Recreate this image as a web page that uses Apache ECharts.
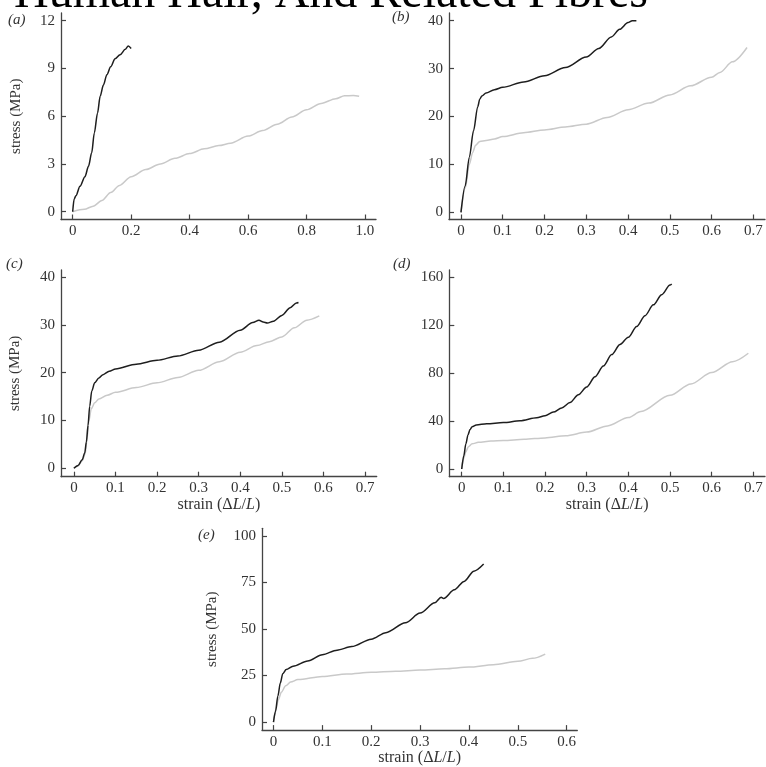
<!DOCTYPE html>
<html>
<head>
<meta charset="utf-8">
<title>Human Hair, And Related Fibres</title>
<script src="https://cdn.jsdelivr.net/npm/echarts@6/dist/echarts.min.js"></script>
<style>
  html, body { margin: 0; padding: 0; background: #fff; }
  #chart { width: 766px; height: 767px; }
</style>
</head>
<body>
<div id="chart"></div>
<script>
// panel (a)
var aTicksX = [0, 0.2, 0.4, 0.6, 0.8, 1.0];
var aTicksY = [0, 3, 6, 9, 12];
var aDark = [[0,0],[0.005,0.8],[0.011,1.0],[0.025,1.6],[0.042,2.2],[0.054,2.85],[0.065,3.7],[0.074,4.95],[0.085,6.2],[0.094,7.25],[0.105,7.95],[0.117,8.6],[0.13,9.1],[0.145,9.6],[0.162,9.85],[0.18,10.2],[0.19,10.4],[0.2,10.25]];
var aLight = [[0,0],[0.04,0.15],[0.07,0.35],[0.1,0.7],[0.13,1.2],[0.16,1.65],[0.2,2.2],[0.25,2.65],[0.3,3.0],[0.35,3.35],[0.4,3.65],[0.45,3.95],[0.5,4.15],[0.54,4.3],[0.6,4.75],[0.65,5.1],[0.7,5.5],[0.75,5.95],[0.8,6.4],[0.85,6.8],[0.9,7.1],[0.93,7.28],[0.96,7.3],[0.98,7.25]];

// panel (b)
var bTicksX = [0, 0.1, 0.2, 0.3, 0.4, 0.5, 0.6, 0.7];
var bTicksY = [0, 10, 20, 30, 40];
var bDark = [[0,0],[0.01,5.5],[0.02,11.5],[0.03,17],[0.04,22],[0.045,23.6],[0.05,24.3],[0.06,24.9],[0.08,25.6],[0.1,26.1],[0.15,27.2],[0.2,28.5],[0.25,30.2],[0.3,32.4],[0.33,34.2],[0.36,36.6],[0.38,38.2],[0.4,39.6],[0.41,40],[0.42,40]];
var bLight = [[0,0],[0.01,5],[0.02,10],[0.028,12.5],[0.035,14],[0.045,14.8],[0.06,15],[0.08,15.3],[0.1,15.8],[0.15,16.6],[0.2,17.2],[0.25,17.8],[0.3,18.4],[0.35,19.8],[0.4,21.4],[0.45,22.8],[0.5,24.5],[0.55,26.4],[0.6,28.2],[0.62,29.2],[0.65,31.4],[0.685,34.4]];

// panel (c)
var cTicksX = [0, 0.1, 0.2, 0.3, 0.4, 0.5, 0.6, 0.7];
var cTicksY = [0, 10, 20, 30, 40];
var cDark = [[0,0],[0.01,0.6],[0.02,1.8],[0.026,3.2],[0.03,5.5],[0.034,9],[0.038,13],[0.043,16.2],[0.05,17.9],[0.06,18.9],[0.07,19.6],[0.085,20.3],[0.1,20.8],[0.15,21.8],[0.2,22.6],[0.25,23.5],[0.3,24.7],[0.35,26.4],[0.4,28.9],[0.43,30.5],[0.445,31],[0.455,30.6],[0.465,30.4],[0.48,30.8],[0.5,32],[0.52,33.6],[0.535,34.6],[0.54,34.7]];
var cLight = [[0,0],[0.01,0.5],[0.02,1.6],[0.027,3],[0.032,6.5],[0.036,10],[0.042,12.5],[0.05,13.7],[0.06,14.5],[0.08,15.3],[0.1,15.9],[0.15,16.9],[0.2,17.9],[0.25,19],[0.3,20.5],[0.35,22.3],[0.4,24.3],[0.44,25.7],[0.47,26.5],[0.5,27.5],[0.53,29.4],[0.56,31],[0.59,31.9]];

// panel (d)
var dTicksX = [0, 0.1, 0.2, 0.3, 0.4, 0.5, 0.6, 0.7];
var dTicksY = [0, 40, 80, 120, 160];
var dDark = [[0,0],[0.005,11],[0.01,21],[0.015,28.5],[0.02,33],[0.025,35.3],[0.035,36.8],[0.06,37.8],[0.1,38.8],[0.14,40.3],[0.18,42.8],[0.2,44.5],[0.22,47.5],[0.24,51],[0.26,55.5],[0.28,62],[0.3,68.5],[0.32,77],[0.34,86],[0.36,95.5],[0.38,104],[0.4,110],[0.42,119],[0.44,128],[0.46,137],[0.48,145.5],[0.5,153.5],[0.504,154.5]];
var dLight = [[0,0],[0.005,9],[0.01,14.5],[0.016,18.5],[0.025,21],[0.04,22.3],[0.07,23.3],[0.1,23.8],[0.15,24.8],[0.2,26],[0.25,27.8],[0.3,30.8],[0.35,36],[0.4,43],[0.43,48],[0.5,61.5],[0.55,71],[0.6,80.5],[0.65,89.5],[0.688,96.6]];

// panel (e)
var eTicksX = [0, 0.1, 0.2, 0.3, 0.4, 0.5, 0.6];
var eTicksY = [0, 25, 50, 75, 100];
var eDark = [[0,0],[0.004,5.5],[0.009,14],[0.014,21],[0.019,26],[0.026,28.2],[0.04,30],[0.07,32.8],[0.1,36.2],[0.13,38.6],[0.16,40.5],[0.2,44.5],[0.23,48],[0.27,53.3],[0.3,58.5],[0.33,64],[0.343,67],[0.348,66.3],[0.37,71],[0.39,75.5],[0.41,81],[0.43,84.8]];
var eLight = [[0,0],[0.005,7],[0.01,12],[0.016,16],[0.025,19.5],[0.035,21.5],[0.05,22.8],[0.1,24.5],[0.15,25.8],[0.2,26.7],[0.25,27.3],[0.3,27.9],[0.35,28.6],[0.4,29.5],[0.45,30.8],[0.5,32.6],[0.53,34.2],[0.556,36.5]];

var serif = "'Liberation Serif', 'DejaVu Serif', serif";
var axisColor = '#444';
var textColor = '#333';

var strainName = '{n|strain (Δ}{i|L}{n|/}{i|L}{n|)}';
var nameRich = {
  n: { fontFamily: serif, fontSize: 16, color: textColor },
  i: { fontFamily: serif, fontSize: 16, color: textColor, fontStyle: 'italic' }
};

// one panel = grid + axes; box is pixel position of the axis lines
var panels = [
  { box: [61, 13, 315, 206.5], x: [-0.04, 1.0377], y: [-0.49, 12.48], tx: aTicksX, ty: aTicksY, dec: 1, dark: aDark, light: aLight, xName: false, yName: true, yGap: 37 },
  { box: [449, 13, 316, 206.5], x: [-0.0287, 0.728], y: [-1.5, 41.6], tx: bTicksX, ty: bTicksY, dec: 1, dark: bDark, light: bLight, xName: false, yName: false },
  { box: [61, 270, 315.7, 206.7], x: [-0.031, 0.728], y: [-1.76, 41.5], tx: cTicksX, ty: cTicksY, dec: 1, dark: cDark, light: cLight, xName: true, yName: true, yGap: 38 },
  { box: [449.3, 270, 315.7, 206.7], x: [-0.0298, 0.728], y: [-6.4, 166.1], tx: dTicksX, ty: dTicksY, dec: 1, dark: dDark, light: dLight, xName: true, yName: false },
  { box: [262, 528.3, 315.3, 207.2], x: [-0.0235, 0.6216], y: [-4.3, 104], tx: eTicksX, ty: eTicksY, dec: 1, dark: eDark, light: eLight, xName: true, yName: true, yGap: 42 }
];

var grids = [], xAxes = [], yAxes = [], series = [];

panels.forEach(function (p, i) {
  grids.push({ left: p.box[0], top: p.box[1], width: p.box[2], height: p.box[3], containLabel: false });
  xAxes.push({
    type: 'value', gridIndex: i, min: p.x[0], max: p.x[1],
    name: p.xName ? strainName : '', nameLocation: 'middle', nameGap: 16,
    nameTextStyle: { rich: nameRich },
    axisLine: { show: true, onZero: false, lineStyle: { color: axisColor, width: 1.3 } },
    axisTick: { show: true, inside: true, length: 5, customValues: p.tx, lineStyle: { color: axisColor, width: 1.2 } },
    axisLabel: {
      customValues: p.tx, margin: 4, color: textColor, fontFamily: serif, fontSize: 15,
      formatter: function (v) { return v === 0 ? '0' : v.toFixed(p.dec); }
    },
    splitLine: { show: false }
  });
  yAxes.push({
    type: 'value', gridIndex: i, min: p.y[0], max: p.y[1],
    name: p.yName ? 'stress (MPa)' : '', nameLocation: 'middle', nameGap: p.yGap || 40, nameRotate: 90,
    nameTextStyle: { fontFamily: serif, fontSize: 15, color: textColor },
    axisLine: { show: true, onZero: false, lineStyle: { color: axisColor, width: 1.3 } },
    axisTick: { show: true, inside: true, length: 5, customValues: p.ty, lineStyle: { color: axisColor, width: 1.2 } },
    axisLabel: { customValues: p.ty, margin: 6, color: textColor, fontFamily: serif, fontSize: 15 },
    splitLine: { show: false }
  });
  series.push({
    type: 'line', xAxisIndex: i, yAxisIndex: i, data: p.light, showSymbol: false,
    smooth: 0.3, smoothMonotone: 'x', lineStyle: { color: '#c9c9c9', width: 1.5 }, z: 2
  });
  series.push({
    type: 'line', xAxisIndex: i, yAxisIndex: i, data: p.dark, showSymbol: false,
    smooth: 0.3, smoothMonotone: 'x', lineStyle: { color: '#1e1e1e', width: 1.5 }, z: 3
  });
});

// panel letters
var letters = [['(a)', 8, 21], ['(b)', 392, 18], ['(c)', 6, 265], ['(d)', 393, 265], ['(e)', 198, 536]];
var graphics = letters.map(function (l) {
  return {
    type: 'text', left: l[1], top: l[2] - 8,
    style: { text: l[0], font: 'italic 15px ' + serif, fill: textColor }
  };
});
graphics.push({
  type: 'text', x: 14, y: 18,
  style: { text: 'Human Hair, And Related Fibres', font: '48px ' + serif, fill: '#000', verticalAlign: 'bottom' }
});

var myChart = echarts.init(document.getElementById('chart'));
var option = {
  animation: false,
  backgroundColor: '#fff',
  grid: grids,
  xAxis: xAxes,
  yAxis: yAxes,
  series: series,
  graphic: graphics
};
option && myChart.setOption(option);
</script>
</body>
</html>
